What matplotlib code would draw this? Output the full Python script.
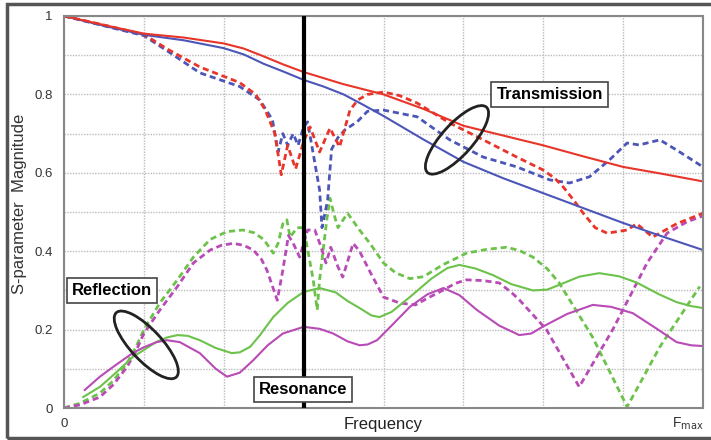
import matplotlib
matplotlib.use("Agg")
import matplotlib.pyplot as plt
from matplotlib.patches import Ellipse, Rectangle
from matplotlib.transforms import ScaledTranslation

plt.rcParams['font.family'] = ['Liberation Sans', 'DejaVu Sans']

# frequency axis runs 0 .. 8 (8 = Fmax)
red_solid_x = [0, 0.5, 1, 1.5, 2, 2.25, 2.5, 2.75, 3, 3.5, 4, 4.5, 5, 5.5, 6, 6.5, 7, 7.5, 8]
red_solid_y = [1.0, 0.977, 0.955, 0.945, 0.93, 0.917, 0.897, 0.876, 0.857, 0.826, 0.80,
               0.763, 0.72, 0.695, 0.67, 0.642, 0.615, 0.597, 0.578]

blue_solid_x = [0, 0.5, 1, 1.5, 2, 2.25, 2.5, 2.75, 3, 3.25, 3.5, 3.75, 4, 4.5, 5, 5.5, 6,
                6.5, 7, 7.5, 8]
blue_solid_y = [1.0, 0.975, 0.952, 0.938, 0.918, 0.902, 0.878, 0.858, 0.837, 0.82, 0.80,
                0.773, 0.745, 0.685, 0.628, 0.586, 0.548, 0.51, 0.472, 0.437, 0.403]

red_dash_x = [0, 0.5, 1.0, 1.3, 1.7, 2.2, 2.4, 2.52, 2.64, 2.72, 2.8, 2.9, 3.0, 3.08,
              3.2, 3.33, 3.45, 3.58, 3.68, 3.8, 4.0, 4.2, 4.42, 4.83, 5.25, 5.67, 6.0,
              6.15, 6.25, 6.4, 6.5, 6.65, 6.8, 7.05, 7.17, 7.37, 7.67, 8.0]
red_dash_y = [1.0, 0.977, 0.953, 0.915, 0.87, 0.83, 0.80, 0.76, 0.70, 0.595, 0.67, 0.61,
              0.68, 0.717, 0.653, 0.714, 0.666, 0.76, 0.786, 0.80, 0.806, 0.797, 0.778,
              0.727, 0.684, 0.64, 0.607, 0.585, 0.564, 0.525, 0.497, 0.46, 0.446, 0.454,
              0.47, 0.436, 0.47, 0.497]

blue_dash_x = [0, 0.5, 1.0, 1.3, 1.7, 2.2, 2.45, 2.61, 2.68, 2.74, 2.8, 2.87, 2.93, 3.0,
               3.05, 3.2, 3.23, 3.3, 3.35, 3.43, 3.52, 3.67, 3.8, 4.0, 4.42, 4.83, 5.25,
               5.67, 6.08, 6.33, 6.58, 6.83, 7.05, 7.2, 7.46, 7.67, 8.0]
blue_dash_y = [1.0, 0.975, 0.95, 0.91, 0.855, 0.82, 0.786, 0.735, 0.653, 0.70, 0.67, 0.70,
               0.67, 0.717, 0.73, 0.556, 0.46, 0.53, 0.66, 0.69, 0.71, 0.73, 0.757, 0.76,
               0.743, 0.684, 0.64, 0.615, 0.582, 0.574, 0.59, 0.633, 0.676, 0.671, 0.684,
               0.658, 0.615]

green_solid_x = [0.24, 0.45, 0.65, 0.86, 1.0, 1.15, 1.29, 1.42, 1.55, 1.7, 1.9, 2.1, 2.2,
                 2.33, 2.45, 2.62, 2.8, 3.0, 3.2, 3.4, 3.55, 3.7, 3.85, 3.95, 4.1, 4.33,
                 4.6, 4.8, 4.95, 5.15, 5.37, 5.6, 5.87, 6.05, 6.2, 6.45, 6.7, 6.95, 7.17,
                 7.45, 7.67, 7.85, 8.0]
green_solid_y = [0.028, 0.054, 0.09, 0.13, 0.148, 0.168, 0.18, 0.186, 0.184, 0.173, 0.153,
                 0.14, 0.142, 0.156, 0.185, 0.232, 0.268, 0.296, 0.306, 0.295, 0.273, 0.255,
                 0.236, 0.232, 0.245, 0.283, 0.33, 0.357, 0.365, 0.356, 0.339, 0.316, 0.30,
                 0.302, 0.314, 0.335, 0.344, 0.336, 0.32, 0.29, 0.27, 0.26, 0.255]

magenta_solid_x = [0.26, 0.45, 0.65, 0.86, 1.0, 1.16, 1.29, 1.45, 1.7, 1.9, 2.04, 2.2,
                   2.37, 2.55, 2.74, 3.0, 3.2, 3.37, 3.55, 3.7, 3.8, 3.92, 4.1, 4.33, 4.55,
                   4.75, 4.95, 5.17, 5.45, 5.7, 5.85, 5.99, 6.3, 6.62, 6.85, 7.12, 7.4, 7.67,
                   7.85, 8.0]
magenta_solid_y = [0.046, 0.08, 0.11, 0.14, 0.155, 0.168, 0.173, 0.168, 0.14, 0.10, 0.08,
                   0.09, 0.122, 0.16, 0.19, 0.207, 0.202, 0.19, 0.17, 0.16, 0.162, 0.173,
                   0.21, 0.258, 0.29, 0.306, 0.288, 0.25, 0.21, 0.186, 0.19, 0.207, 0.24,
                   0.263, 0.258, 0.242, 0.205, 0.168, 0.16, 0.158]

green_dash_x = [0, 0.2, 0.45, 0.62, 0.79, 0.9, 1.0, 1.2, 1.42, 1.62, 1.83, 2.04, 2.24,
                2.38, 2.5, 2.62, 2.68, 2.74, 2.79, 2.83, 2.92, 3.0, 3.12, 3.17, 3.2, 3.29,
                3.33, 3.39, 3.43, 3.55, 3.7, 3.83, 4.0, 4.15, 4.33, 4.5, 4.74, 5.04, 5.3,
                5.54, 5.7, 5.87, 6.05, 6.2, 6.62, 7.05, 7.46, 7.96]
green_dash_y = [0.0, 0.012, 0.038, 0.07, 0.115, 0.155, 0.2, 0.268, 0.327, 0.385, 0.43,
                0.45, 0.454, 0.447, 0.43, 0.395, 0.42, 0.47, 0.48, 0.436, 0.46, 0.46, 0.327,
                0.25, 0.327, 0.48, 0.535, 0.487, 0.46, 0.497, 0.454, 0.42, 0.37, 0.345, 0.33,
                0.335, 0.365, 0.395, 0.405, 0.41, 0.402, 0.385, 0.355, 0.319, 0.18, 0.003,
                0.156, 0.31]

magenta_dash_x = [0, 0.2, 0.45, 0.62, 0.79, 0.9, 1.0, 1.2, 1.42, 1.62, 1.83, 1.97, 2.12,
                  2.25, 2.37, 2.47, 2.54, 2.67, 2.74, 2.81, 2.87, 2.95, 3.05, 3.14, 3.22,
                  3.28, 3.34, 3.43, 3.49, 3.62, 3.7, 3.84, 4.0, 4.2, 4.4, 4.55, 4.74, 4.9,
                  5.04, 5.25, 5.45, 5.6, 5.7, 6.04, 6.45, 6.87, 7.3, 7.55, 7.8, 8.0]
magenta_dash_y = [0.0, 0.008, 0.028, 0.06, 0.105, 0.145, 0.19, 0.25, 0.31, 0.37, 0.403,
                  0.415, 0.42, 0.415, 0.403, 0.38, 0.352, 0.275, 0.352, 0.44, 0.42, 0.385,
                  0.454, 0.454, 0.41, 0.37, 0.41, 0.36, 0.334, 0.42, 0.40, 0.344, 0.283,
                  0.268, 0.263, 0.28, 0.30, 0.318, 0.327, 0.325, 0.319, 0.295, 0.276, 0.2,
                  0.054, 0.2, 0.37, 0.446, 0.475, 0.49]

resonance_x = 3.0

RED = '#e8352a'
BLUE = '#4b56b8'
GREEN = '#6cc24a'
MAGENTA = '#b84bb5'
dash = (0, (2.2, 1.4))

fig = plt.figure(figsize=(7.11, 4.40), dpi=100)
ax = fig.add_axes([64 / 711, 32 / 440, 639 / 711, 392 / 440])

fig.patches.append(Rectangle((7 / 711, 2 / 440), 1.0, 434 / 440, transform=fig.transFigure,
                             fill=False, ec='#555555', lw=2.5, zorder=0))

ax.plot(green_dash_x, green_dash_y, color=GREEN, lw=2, ls=dash)
ax.plot(magenta_dash_x, magenta_dash_y, color=MAGENTA, lw=2, ls=dash)
ax.plot(green_solid_x, green_solid_y, color=GREEN, lw=1.5)
ax.plot(magenta_solid_x, magenta_solid_y, color=MAGENTA, lw=1.5)
ax.plot(blue_dash_x, blue_dash_y, color=BLUE, lw=2, ls=dash)
ax.plot(red_dash_x, red_dash_y, color=RED, lw=2, ls=dash)
ax.plot(blue_solid_x, blue_solid_y, color=BLUE, lw=1.5)
ax.plot(red_solid_x, red_solid_y, color=RED, lw=1.5)

ax.axvline(resonance_x, color='black', lw=3, zorder=5)

ax.set_xlim(0, 8)
ax.set_ylim(0, 1)
ax.set_xticks(range(0, 9))
ax.set_xticklabels([])
ax.set_yticks([0, 0.2, 0.4, 0.6, 0.8, 1.0])
ax.set_yticklabels(['0', '0.2', '0.4', '0.6', '0.8', '1'])
ax.set_yticks([0.1, 0.3, 0.5, 0.7, 0.9], minor=True)
ax.tick_params(which='both', length=0)
ax.tick_params(axis='y', labelsize=9.5, labelcolor='#333333', pad=8)
ax.grid(True, which='both', color='#bbbbbb', lw=1, ls=(0, (1, 1)))
ax.set_axisbelow(True)
for s in ax.spines.values():
    s.set_color('#888888')
    s.set_linewidth(1.5)

ax.text(0, -0.04, '0', ha='center', va='center', fontsize=9.5, color='#333333')
ax.text(8, -0.04, r'F$_{\mathrm{max}}$', ha='right', va='center', fontsize=10, color='#333333')
ax.set_xlabel('Frequency', fontsize=12, color='#222222', labelpad=3)
ax.set_ylabel('S-parameter  Magnitude', fontsize=12, color='#333333')
ax.yaxis.set_label_coords(-0.058, 0.52)

box = dict(boxstyle='square,pad=0.3', fc='white', ec='#444444', lw=1.2)
ax.text(6.08, 0.801, 'Transmission', ha='center', va='center', fontsize=12,
        fontweight='bold', bbox=box, zorder=10)
ax.text(0.60, 0.301, 'Reflection', ha='center', va='center', fontsize=12,
        fontweight='bold', bbox=box, zorder=10)
ax.text(2.99, 0.046, 'Resonance', ha='center', va='center', fontsize=12,
        fontweight='bold', bbox=box, zorder=10)

# ellipses drawn in inches so they keep their shape
for cx, cy, ang in [(4.92, 0.684, 48), (1.03, 0.161, -47)]:
    tr = fig.dpi_scale_trans + ScaledTranslation(cx, cy, ax.transData)
    ax.add_patch(Ellipse((0, 0), 0.88, 0.31, angle=ang, transform=tr,
                         fill=False, ec='#222222', lw=2, zorder=9))

fig.savefig('out.png', dpi=100)
